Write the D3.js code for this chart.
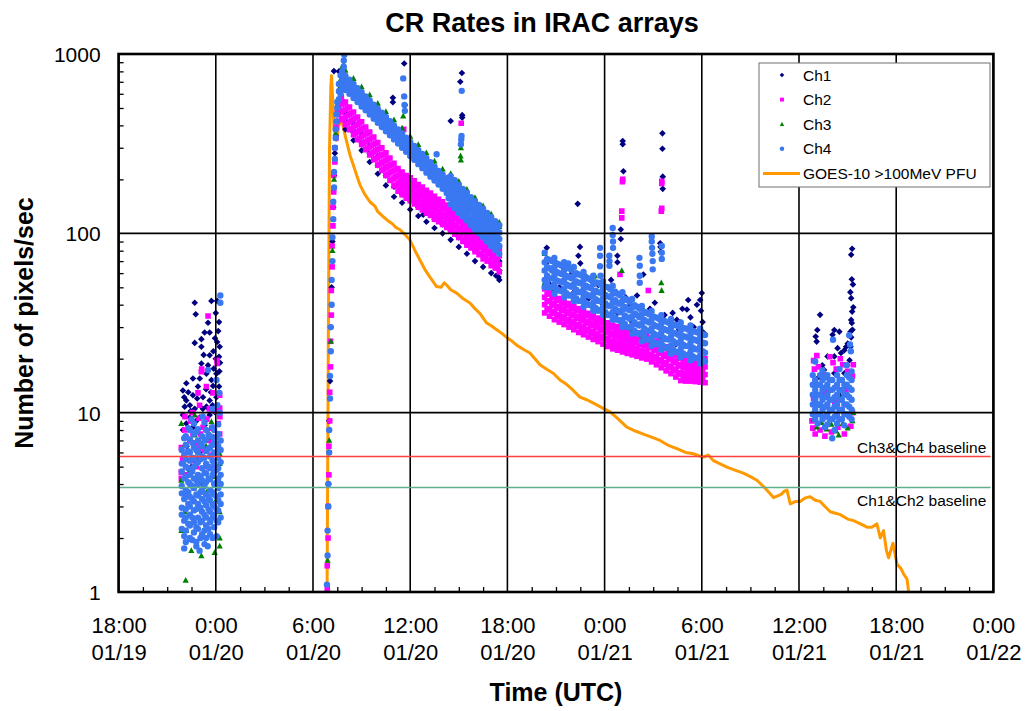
<!DOCTYPE html>
<html lang="en">
<head>
    <meta charset="UTF-8">
    <title>CR Rates in IRAC arrays</title>
    <script src="https://cdn.jsdelivr.net/npm/d3@7"></script>
    <style>
        body { margin: 0; background: #fff; }
        text { font-family: "Liberation Sans", Arial, sans-serif; fill: #000; }
    </style>
</head>
<body>
    <div id="chart"></div>
    <script>
        // time is in hours after 0:00 UTC on 01/20
        const xTickHours = [-6, 0, 6, 12, 18, 24, 30, 36, 42, 48];
        const xTickTime = ["18:00", "0:00", "6:00", "12:00", "18:00", "0:00", "6:00", "12:00", "18:00", "0:00"];
        const xTickDate = ["01/19", "01/20", "01/20", "01/20", "01/20", "01/21", "01/21", "01/21", "01/21", "01/22"];
        const yTicks = [1, 10, 100, 1000];

        const seriesNames = ["Ch1", "Ch2", "Ch3", "Ch4"];
        const goesName = "GOES-10 >100MeV PFU";
        const baselineCh34 = 5.7;
        const baselineCh12 = 3.82;

        // rows are [hour, value, value, ...]
        const ch1Rows = [
            // night of 01/19
            [-1.30, 41], [-0.27, 42], [0.08, 42], [-1.24, 35.4], [0.0, 35.9], [-0.48, 31.7], [0.2, 32],
            [-0.69, 28], [-0.38, 28], [-1.3, 24.5], [-0.89, 25.7], [0.08, 24.8], [0.24, 23.3], [-0.89, 23.3],
            [-0.38, 20.9], [0.0, 20], [0.2, 20.5], [-0.89, 18.8], [-0.48, 18.4], [-0.13, 17.6], [0.04, 16.5],
            [-1.41, 15.5], [-0.99, 15.5], [-0.58, 16.5], [-0.27, 15.2], [-1.82, 14.6], [-2.03, 13.3], [-1.1, 14],
            [-0.17, 14.1], [-1.41, 12.5], [-1.82, 11.7], [-0.79, 12.2], [-0.38, 11.7], [0.04, 12.2], [-1.92, 10.8],
            [-1.3, 10.5], [-0.58, 10.8], [-0.07, 10.1], [-2.03, 9.7], [-1.61, 9.4], [-0.99, 9.4], [-0.38, 9.7],
            [-1.82, 8.7], [-1.41, 8.3], [-0.69, 8.5], [-2.03, 8.0], [-1.8, 6.5], [-1.0, 6], [-0.4, 7], [-1.5, 5],
            [-1.6, 11], [-1.15, 12], [-0.2, 11], [0.2, 14], [-0.6, 13.5], [0.22, 17], [-1.7, 13], [-0.05, 26],
            [0.15, 28.5], [-0.75, 21], [-1.95, 12.2], [-1.55, 10.2], [-1.2, 9.0], [-0.8, 10.5], [-0.3, 13.0],
            [0.1, 10.8], [-0.15, 22], [0.26, 19],
            // rise and decay 01/20
            [6.86, 1.0], [6.95, 4], [7.0, 9], [7.05, 15], [7.1, 30], [7.15, 50], [7.2, 90], [7.25, 140],
            [7.3, 210], [7.35, 280], [7.42, 350], [7.5, 420], [7.29, 803], [7.6, 800], [7.85, 545], [7.7, 520, 550],
            [8.0, 380, 420, 470], [8.5, 330, 365, 410], [9.0, 290, 320, 360], [9.5, 250, 280, 310],
            [10.0, 215, 240, 270], [10.5, 185, 210, 235], [11.0, 160, 182, 205], [11.5, 148, 165, 185],
            [12.0, 136, 152, 170], [12.5, 125, 140, 157], [13.0, 116, 130, 145], [13.5, 107, 120, 135],
            [14.0, 100, 112, 125], [14.5, 92, 103, 116], [15.0, 84, 95, 106], [15.5, 77, 87, 97],
            [16.0, 70, 80, 89], [16.5, 65, 74, 82], [17.0, 60, 68, 76], [17.5, 55, 62, 70], [17.45, 57],
            [12.8, 127], [14.5, 104], [15.4, 92], [17.3, 58],
            [11.63, 885], [11.67, 520], [10.93, 570], [10.93, 539], [15.19, 783], [15.09, 700],
            [15.21, 456], [15.21, 442], [14.5, 423],
            // 01/20 evening to 01/21 morning
            [20.43, 83], [20.5, 70], [20.7, 62], [21.0, 60], [21.4, 66], [21.6, 57], [22.0, 60], [22.34, 146],
            [22.38, 75], [22.48, 84], [22.5, 68], [22.8, 58], [23.2, 54], [23.61, 51.5], [24.0, 46], [24.4, 55],
            [24.79, 75], [24.79, 69], [25.0, 105], [25.0, 93], [25.12, 327], [25.12, 314], [25.16, 222],
            [25.3, 44], [25.6, 40], [26.0, 45], [26.39, 59], [26.8, 38], [27.1, 41], [27.43, 88], [27.45, 84],
            [27.47, 79], [27.57, 361], [27.57, 296], [27.59, 207], [27.59, 177], [27.7, 35], [28.04, 31.6],
            [28.2, 36], [28.46, 33], [28.6, 29], [28.8, 38], [29.08, 37.6], [29.16, 42.5], [29.3, 34], [29.5, 30],
            [29.7, 40], [29.9, 42.5], [29.95, 37], [30.0, 46.5], [30.05, 32], [30.1, 28],
            [20.6, 52], [21.2, 50], [22.1, 47], [23.0, 43], [23.9, 40], [24.8, 36], [25.7, 32], [26.6, 28],
            [27.5, 26], [28.4, 24], [29.3, 23],
            // 01/21 afternoon
            [39.28, 82], [39.22, 76], [39.26, 55.5], [39.33, 51.9], [39.22, 43.5], [39.35, 38.7], [39.28, 36.6],
            [39.22, 32.9], [39.26, 31.6], [37.3, 35.1], [37.13, 28.9], [37.03, 26.6], [37.09, 24.9], [38.18, 28.9],
            [38.49, 28.3], [38.07, 27.2], [39.18, 28.3], [39.22, 26.3], [39.01, 24.3], [39.18, 23.3], [38.91, 23.3],
            [38.38, 22.9], [38.8, 22.3], [38.59, 21.5], [38.18, 20.6], [39.12, 19.6], [38.97, 18.4], [37.76, 20.6],
            [37.44, 18.4], [37.55, 17.3], [38.18, 16.6], [38.8, 16.6], [37.23, 15.8], [38.59, 15.2], [39.17, 47],
            [39.3, 29], [37.0, 12], [37.8, 13], [38.5, 12.5], [39.0, 14]
        ];

        const ch2Rows = [
            [-0.48, 34.6], [-0.87, 17.5], [-0.89, 16.9], [0.08, 19.6], [0.08, 18.8], [-0.58, 14], [-0.17, 12.9],
            [0.24, 12.5], [0.24, 10.6], [-1.1, 12.9], [-1.04, 9.3], [-0.79, 8.3], [-1.92, 8.0], [-1.41, 7.6],
            [0.14, 8.7], [0.24, 7.6], [0.04, 6.7], [-0.38, 7.0], [-1.61, 7.0], [-2.13, 6.4], [-0.99, 6.4],
            [-2.13, 4.66], [-1.82, 4.5], [-0.58, 5.0], [-0.07, 5.1], [-1.41, 5.4], [-2.13, 4.3],
            [-2.05, 5.5], [-1.75, 6.0], [-1.55, 9.0], [-1.25, 6.8], [-1.2, 5.0], [-0.95, 7.6], [-0.7, 6.2],
            [-0.55, 9.2], [-0.3, 5.8], [-0.25, 8.2], [-0.05, 7.3], [0.1, 5.6], [0.25, 9.5], [0.2, 6.2],
            [-1.9, 9.5], [-1.0, 11.0], [-0.4, 10.5], [0.05, 10.2], [-1.45, 10.0],
            [6.88, 1.05, 1.4], [6.93, 2, 3], [6.98, 4.5, 6.5], [7.03, 9, 13], [7.08, 18, 25], [7.13, 35, 48],
            [7.18, 65, 85], [7.23, 110, 140], [7.28, 170, 210], [7.35, 250, 300], [7.42, 340, 390],
            [7.5, 420, 470], [7.58, 460, 520], [7.66, 480, 540],
            [7.75, 430, 475, 525, 575], [8.0, 403, 446, 492, 539], [8.25, 378, 418, 462, 506],
            [8.5, 355, 392, 434, 475], [8.75, 333, 368, 406, 445], [9.0, 313, 346, 382, 419],
            [9.25, 293, 324, 358, 392], [9.5, 274, 303, 335, 367], [9.75, 257, 284, 314, 344],
            [10.0, 240, 265, 293, 321], [10.25, 224, 248, 274, 300], [10.5, 210, 232, 256, 281],
            [10.75, 197, 218, 240, 263], [11.0, 184, 203, 225, 246], [11.25, 172, 190, 210, 230],
            [11.5, 164, 181, 201, 220], [11.75, 157, 174, 192, 210], [12.0, 152, 168, 186, 204],
            [12.25, 146, 162, 179, 196], [12.5, 140, 155, 171, 187], [12.75, 135, 149, 165, 181],
            [13.0, 130, 143, 159, 174], [13.25, 126, 139, 153, 168], [13.5, 120, 133, 147, 161],
            [13.75, 116, 128, 142, 155], [14.0, 112, 124, 137, 150], [14.25, 108, 119, 131, 144],
            [14.5, 103, 114, 126, 138], [14.75, 99, 109, 121, 132], [15.0, 95, 105, 116, 127],
            [15.25, 90, 100, 110, 121], [15.5, 86, 95, 105, 115], [15.75, 83, 91, 101, 110],
            [16.0, 79, 87, 97, 106], [16.25, 76, 84, 92, 101], [16.5, 72, 80, 88, 97],
            [16.75, 70, 77, 85, 93], [17.0, 66, 73, 81, 89], [17.25, 64, 70, 78, 85], [17.5, 61, 67, 75, 82],
            [7.875, 436, 484, 532], [8.125, 409, 454, 500], [8.375, 383, 426, 469], [8.625, 360, 400, 440],
            [8.875, 338, 375, 413], [9.125, 317, 352, 387], [9.375, 297, 330, 363], [9.625, 278, 309, 340],
            [9.875, 260, 289, 318], [10.125, 243, 270, 297], [10.375, 227, 252, 277], [10.625, 213, 236, 260],
            [10.875, 199, 221, 243], [11.125, 186, 207, 228], [11.375, 176, 195, 215], [11.625, 168, 187, 206],
            [11.875, 162, 180, 198], [12.125, 156, 173, 190], [12.375, 150, 166, 183], [12.625, 144, 160, 176],
            [12.875, 139, 154, 169], [13.125, 134, 148, 163], [13.375, 129, 143, 157], [13.625, 124, 137, 151],
            [13.875, 119, 132, 145], [14.125, 115, 127, 140], [14.375, 110, 122, 134], [14.625, 106, 117, 129],
            [14.875, 101, 112, 123], [15.125, 97, 107, 118], [15.375, 92, 102, 113], [15.625, 88, 98, 108],
            [15.875, 85, 94, 103], [16.125, 81, 90, 99], [16.375, 77, 86, 95], [16.625, 74, 82, 91],
            [16.875, 71, 79, 87], [17.125, 68, 75, 83], [17.375, 65, 72, 80],
            [11.6, 380], [15.15, 411],
            [20.3, 36, 40, 44, 49], [20.6, 34.5, 38, 42, 47], [20.9, 33, 36.7, 40.7, 45], [21.2, 32, 35.3, 39, 43.3],
            [21.5, 31, 34.2, 37.9, 42], [21.8, 30, 33.1, 36.7, 40.6], [22.1, 29, 32.1, 35.5, 39.3],
            [22.4, 28, 31, 34.3, 38], [22.7, 27.2, 30.1, 33.4, 36.9], [23.0, 26.4, 29.2, 32.3, 35.8],
            [23.3, 25.6, 28.4, 31.4, 34.8], [23.6, 24.9, 27.5, 30.5, 33.7], [23.9, 24.1, 26.7, 29.6, 32.7],
            [24.2, 23.4, 25.9, 28.6, 31.7], [24.5, 22.7, 25.1, 27.8, 30.8], [24.8, 22.3, 24.6, 27.3, 30.2],
            [25.1, 21.8, 24.2, 26.8, 29.6], [25.4, 21.4, 23.7, 26.3, 29.1], [25.7, 21, 23.3, 25.8, 28.5],
            [26.0, 20.6, 22.8, 25.2, 27.9], [26.3, 20.2, 22.3, 24.7, 27.4], [26.6, 19.9, 22, 24.4, 27],
            [26.9, 19.2, 21.2, 23.5, 26], [27.2, 18.5, 20.5, 22.7, 25.1], [27.5, 17.8, 19.7, 21.8, 24.2],
            [27.8, 17.1, 19, 21, 23.3], [28.1, 16.5, 18.2, 20.2, 22.3], [28.4, 15.8, 17.5, 19.4, 21.4],
            [28.7, 15.1, 16.7, 18.5, 20.5], [29.0, 15, 16.6, 18.4, 20.4], [29.3, 15, 16.6, 18.3, 20.3],
            [29.6, 14.9, 16.5, 18.2, 20.2], [29.9, 14.8, 16.4, 18.1, 20.1], [30.2, 14.7, 16.3, 18, 20],
            [20.45, 37.4, 41.6, 45.8], [20.75, 35.8, 39.8, 43.8], [21.05, 34.4, 38.3, 42.2], [21.35, 33.3, 37, 40.8],
            [21.65, 32.2, 35.8, 39.5], [21.95, 31.2, 34.7, 38.2], [22.25, 30.2, 33.6, 37], [22.55, 29.2, 32.5, 35.8],
            [22.85, 28.4, 31.6, 34.8], [23.15, 27.5, 30.6, 33.7], [23.45, 26.7, 29.7, 32.7], [23.75, 25.9, 28.8, 31.7],
            [24.05, 25.1, 27.9, 30.7], [24.35, 24.4, 27.1, 29.9], [24.65, 23.8, 26.4, 29.1], [24.95, 23.3, 25.9, 28.6],
            [25.25, 22.9, 25.4, 28], [25.55, 22.4, 24.9, 27.5], [25.85, 22, 24.5, 26.9], [26.15, 21.5, 24, 26.4],
            [26.45, 21.2, 23.6, 25.9], [26.75, 20.6, 23, 25.3], [27.05, 19.9, 22.2, 24.4], [27.35, 19.2, 21.4, 23.5],
            [27.65, 18.5, 20.6, 22.7], [27.95, 17.8, 19.8, 21.8], [28.25, 17.1, 19, 20.9], [28.55, 16.4, 18.2, 20.1],
            [28.85, 16, 17.8, 19.6], [29.15, 15.9, 17.7, 19.5], [29.45, 15.8, 17.6, 19.3], [29.75, 15.7, 17.5, 19.2],
            [30.05, 15.6, 17.4, 19.1],
            [25.12, 200], [25.1, 194], [25.06, 133], [25.06, 122], [27.53, 195], [27.53, 190], [27.53, 138],
            [27.5, 133], [24.95, 59], [26.7, 48],
            [36.9, 19.5], [36.95, 17.5], [37.2, 18], [37.5, 16.5], [37.9, 20.5], [38.1, 19], [38.3, 17.5],
            [38.7, 18.5], [39.0, 17], [39.3, 16], [36.85, 8.2], [37.0, 7.6], [37.3, 8.0], [37.6, 7.4],
            [38.0, 7.8], [38.4, 8.3], [38.8, 7.6], [39.2, 8.4], [36.9, 12], [37.6, 13], [38.2, 11.5],
            [38.9, 13.5], [39.3, 10], [37.1, 20.8], [38.55, 20], [39.35, 18.5], [36.8, 9]
        ];

        const ch3Rows = [
            [-1.3, 9.7], [-0.27, 8.9], [-2.13, 8.7], [-0.38, 7.6], [-1.3, 7.5], [-0.17, 7.3], [-1.92, 6.6],
            [0.24, 5.9], [0.24, 5.2], [0.24, 4.1], [-2.13, 4.2], [-0.89, 4.0], [-1.82, 3.5], [-0.58, 3.6],
            [0.24, 3.2], [0.24, 2.8], [-1.92, 2.8], [-1.41, 2.5], [-1.82, 2.2], [-0.79, 2.1], [-2.13, 2.2],
            [0.24, 2.0], [-1.61, 1.96], [-0.07, 1.66], [-1.51, 1.7], [-0.89, 1.59], [0.24, 1.8], [-1.86, 1.16],
            [-1.0, 3.0], [-0.5, 2.6], [-1.6, 4.8], [-0.1, 4.4], [-1.15, 5.6], [-0.6, 6.5], [0.05, 3.3],
            [-1.95, 5.2], [-1.35, 3.8],
            [6.9, 1.5], [7.0, 7], [7.1, 25], [7.2, 80], [7.3, 200], [7.4, 360], [7.5, 520], [7.6, 640],
            [7.7, 720], [7.8, 800, 850], [7.9, 870],
            [8.0, 762, 810], [8.5, 686, 730], [9.0, 617, 656], [9.5, 556, 591], [10.0, 500, 531],
            [10.5, 449, 477], [11.0, 404, 429], [11.5, 363, 386], [12.0, 327, 347], [12.5, 294, 312],
            [13.0, 264, 281], [13.5, 238, 253], [14.0, 215, 228], [14.5, 193, 205, 215], [15.0, 173, 184, 195],
            [15.5, 156, 166, 176], [16.0, 140, 149, 158], [16.5, 127, 135, 142], [17.0, 113, 121, 128],
            [17.5, 102, 109, 115],
            [11.57, 451], [11.6, 349], [15.13, 300], [15.11, 270], [15.13, 256],
            [20.3, 53, 62, 77], [20.9, 49, 58, 72], [21.5, 47, 55, 69], [22.1, 44, 52, 65], [22.7, 42, 49, 61],
            [23.3, 39, 46, 57], [23.9, 37, 43.5, 54], [24.5, 35, 41, 51], [25.1, 32, 37.5, 47], [25.7, 29, 34.5, 43],
            [26.3, 27, 31.5, 39], [26.9, 25, 29.5, 37], [27.5, 24, 28, 35], [28.1, 22.6, 26.6, 33],
            [28.7, 21.7, 25.5, 32], [29.3, 20.8, 24.5, 30.6], [29.9, 20, 23.5, 29.4],
            [27.5, 53], [27.52, 48], [25.06, 62], [23.4, 58],
            [36.9, 9.2], [37.1, 8.3], [37.4, 8.8], [37.7, 8.1], [38.0, 8.6], [38.3, 7.9], [38.45, 7.5],
            [38.7, 8.7], [39.0, 8.2], [39.3, 9.0], [39.35, 10], [37.2, 11], [38.6, 12]
        ];

        const ch4Rows = [
            [-2.1, 2.25, 2.7, 2.95, 3.55, 3.9, 4.7, 5.2, 6.2],
            [-1.95, 1.75, 2.05, 2.5, 3.3, 4.3, 5.8, 7.2],
            [-1.85, 1.9, 2.2, 2.6, 2.9, 3.4, 3.7, 4.4, 5.0, 5.5, 6.6, 7.4],
            [-1.7, 2.4, 3.1, 3.6, 4.1, 4.9, 6.1, 8.2],
            [-1.6, 2.0, 2.35, 2.7, 3.0, 3.4, 4.0, 4.5, 5.4, 6.0, 7.1, 8.0],
            [-1.45, 1.95, 2.6, 3.3, 3.9, 4.7, 5.6, 6.8],
            [-1.35, 2.15, 2.45, 2.85, 3.2, 3.8, 4.3, 5.0, 5.6, 6.4, 7.6, 8.7],
            [-1.2, 1.9, 2.3, 2.9, 3.5, 4.2, 5.2, 6.2, 7.8],
            [-1.1, 2.25, 2.6, 3.1, 3.45, 4.0, 4.5, 5.3, 6.0, 7.0, 8.1],
            [-0.95, 2.0, 2.45, 2.95, 3.6, 4.4, 5.5, 6.7],
            [-0.85, 2.1, 2.5, 2.8, 3.3, 3.7, 4.2, 4.9, 5.7, 6.5, 7.4],
            [-0.7, 1.85, 2.2, 2.7, 3.2, 3.9, 4.6, 5.6, 7.0, 8.8],
            [-0.6, 2.0, 2.35, 2.6, 3.05, 3.5, 4.1, 4.6, 5.2, 6.1, 7.1, 8.0],
            [-0.45, 2.25, 2.9, 3.4, 4.3, 5.0, 6.3, 7.5],
            [-0.35, 2.1, 2.45, 2.8, 3.25, 3.7, 4.25, 4.9, 5.7, 6.4, 7.4],
            [-0.2, 2.0, 2.6, 3.1, 3.6, 4.5, 5.4, 6.6, 8.3],
            [-0.1, 2.3, 2.7, 3.0, 3.5, 4.0, 4.7, 5.2, 6.0, 7.0, 8.0],
            [0.05, 2.05, 2.5, 2.9, 3.4, 4.1, 4.8, 5.9, 7.3],
            [0.15, 2.45, 2.85, 3.25, 3.8, 4.3, 4.9, 5.6, 6.5, 7.6, 8.6],
            [0.3, 2.6, 3.1, 3.5, 4.0, 4.5, 5.3, 6.2, 7.0],
            [-1.2, 1.8], [-0.5, 1.8], [-0.2, 10.5], [0.1, 11], [0.22, 12.9],
            [-0.48, 17.3], [0.04, 15.2], [0.28, 45], [0.28, 41], [-0.8, 9.5], [-1.5, 9.2], [0.25, 10], [-1.0, 1.7],
            [6.86, 1.1], [6.9, 1.6, 2.2], [6.95, 3, 4], [7.0, 6, 8], [7.05, 12, 16], [7.1, 22, 30],
            [7.15, 40, 55], [7.2, 70, 95], [7.25, 120, 150], [7.3, 180, 220], [7.35, 260, 300],
            [7.4, 340, 380], [7.45, 420, 460], [7.5, 500, 540], [7.6, 560, 620, 680], [7.7, 600, 680, 760],
            [7.8, 640, 720, 800], [7.9, 660, 750, 850, 920], [7.93, 990],
            [8.0, 630, 693, 755], [8.25, 600, 658, 718], [8.5, 568, 624, 680], [8.75, 540, 592, 645],
            [9.0, 510, 561, 612], [9.25, 485, 532, 580], [9.5, 460, 505, 550], [9.75, 436, 479, 522],
            [10.0, 413, 454, 495], [10.25, 392, 431, 470], [10.5, 371, 408, 445], [10.75, 352, 387, 422],
            [11.0, 334, 367, 400], [11.25, 317, 348, 379], [11.5, 300, 330, 360], [11.75, 285, 313, 341],
            [12.0, 270, 297, 324], [12.25, 257, 282, 307], [12.5, 243, 267, 291], [12.75, 231, 254, 277],
            [13.0, 218, 240, 262], [13.25, 207, 228, 249], [13.5, 197, 216, 235], [13.75, 187, 205, 223],
            [14.0, 177, 195, 213], [14.25, 168, 185, 202], [14.5, 145, 159, 175, 191, 208],
            [14.75, 138, 151, 166, 181, 198], [15.0, 130, 143, 157, 171, 187], [15.25, 124, 136, 149, 162, 177],
            [15.5, 118, 129, 142, 155, 169], [15.75, 111, 122, 134, 146, 159], [16.0, 105, 116, 127, 138, 151],
            [16.25, 100, 110, 121, 132, 144], [16.5, 95, 105, 115, 125, 137], [16.75, 90, 99, 109, 119, 130],
            [17.0, 85, 94, 103, 112, 123], [17.25, 81, 89, 98, 107, 117], [17.5, 77, 85, 93, 101, 111],
            [8.125, 645, 705], [8.375, 612, 670], [8.625, 581, 635], [8.875, 550, 602], [9.125, 521, 571],
            [9.375, 495, 541], [9.625, 470, 514], [9.875, 445, 487], [10.125, 422, 462], [10.375, 400, 438],
            [10.625, 379, 415], [10.875, 360, 394], [11.125, 341, 373], [11.375, 324, 354], [11.625, 307, 335],
            [11.875, 291, 319], [12.125, 276, 302], [12.375, 262, 286], [12.625, 248, 272], [12.875, 236, 258],
            [13.125, 223, 245], [13.375, 212, 232], [13.625, 201, 219], [13.875, 191, 209], [14.125, 181, 199],
            [14.375, 157, 172, 188, 205], [14.625, 148, 162, 178, 194], [14.875, 140, 154, 168, 184],
            [15.125, 133, 146, 160, 174], [15.375, 126, 138, 152, 165], [15.625, 120, 132, 144, 157],
            [15.875, 113, 124, 136, 148], [16.125, 108, 118, 130, 141], [16.375, 103, 113, 123, 135],
            [16.625, 97, 107, 117, 128], [16.875, 92, 101, 111, 121], [17.125, 87, 96, 105, 114],
            [17.375, 83, 91, 99, 108],
            [11.57, 731], [11.63, 580], [11.65, 520], [11.67, 482], [11.67, 309], [15.18, 623], [15.17, 349],
            [15.15, 334], [15.13, 314], [13.63, 276],
            [20.3, 50, 55, 62, 69, 78], [20.6, 50, 56, 64, 71], [20.9, 46, 52, 58, 65, 73], [21.2, 48, 54, 60, 67],
            [21.5, 44, 49, 55, 62, 69], [21.8, 45, 51, 57, 64], [22.1, 42, 46, 52, 58, 65], [22.4, 42, 47, 53, 59],
            [22.7, 39, 44, 49, 55, 61], [23.0, 40, 45, 50, 56], [23.3, 37, 41, 46, 52, 58], [23.6, 37, 42, 47, 53],
            [23.9, 35, 39, 43.5, 49, 54], [24.2, 35, 39.5, 44.5, 50], [24.5, 33, 36.5, 41, 46, 51],
            [24.8, 33, 37, 41, 46], [25.1, 30, 33, 37.5, 42, 47], [25.4, 30, 34, 38, 42.5],
            [25.7, 27.6, 30.7, 34.5, 38.6, 43], [26.0, 27.7, 31, 35, 39], [26.3, 25, 28, 31.5, 35.3, 39.4],
            [26.6, 25.6, 28.7, 32.3, 36], [26.9, 23.6, 26.3, 29.5, 33, 36.9], [27.2, 24.1, 27, 30.4, 33.9],
            [27.5, 22.4, 24.9, 28, 31.4, 35], [27.8, 22.9, 25.7, 28.9, 32.2], [28.1, 21.3, 23.7, 26.6, 29.8, 33.3],
            [28.4, 21.8, 24.4, 27.6, 30.7], [28.7, 20.4, 22.7, 25.5, 28.6, 31.9], [29.0, 21, 23.5, 26.5, 29.5],
            [29.3, 19.6, 21.8, 24.5, 27.4, 30.6], [29.6, 20.2, 22.6, 25.4, 28.3], [29.9, 18.8, 20.9, 23.5, 26.3, 29.4],
            [30.2, 19.3, 21.6, 24.4, 27.1],
            [20.45, 52, 58, 65, 72], [20.75, 50, 56, 62.5, 70], [21.05, 49, 54.6, 61, 68], [21.35, 47.6, 53.2, 59.4, 66],
            [21.65, 46.3, 51.8, 57.8, 64.3], [21.95, 45, 50.4, 56.2, 62.5], [22.25, 43.4, 48.5, 54, 60],
            [22.55, 42, 47, 52.5, 58.4], [22.85, 41, 45.8, 51.1, 56.9], [23.15, 39.7, 44.4, 49.5, 55.1],
            [23.45, 38.4, 42.9, 47.9, 53.3], [23.75, 37.4, 41.8, 46.6, 51.9], [24.05, 36.3, 40.6, 45.3, 50.4],
            [24.35, 35.3, 39.4, 44, 49], [24.65, 34, 38, 42.4, 47.2], [24.95, 32.5, 36.3, 40.5, 45.1],
            [25.25, 31.2, 34.9, 38.9, 43.3], [25.55, 29.9, 33.4, 37.3, 41.5], [25.85, 28.6, 32, 35.7, 39.8],
            [26.15, 27.4, 30.6, 34.1, 38], [26.45, 26.4, 29.5, 32.9, 36.6], [26.75, 25.5, 28.5, 31.8, 35.4],
            [27.05, 24.7, 27.6, 30.8, 34.3], [27.35, 24.1, 26.9, 30, 33.4], [27.65, 23.5, 26.2, 29.3, 32.6],
            [27.95, 22.9, 25.6, 28.5, 31.7], [28.25, 22.4, 25, 27.9, 31], [28.55, 21.8, 24.4, 27.2, 30.3],
            [28.85, 21.4, 23.9, 26.7, 29.7], [29.15, 21, 23.5, 26.2, 29.1], [29.45, 20.6, 23, 25.7, 28.6],
            [29.75, 20.1, 22.5, 25.1, 28], [30.05, 19.7, 22, 24.6, 27.4],
            [23.72, 83], [23.72, 75], [23.72, 65.5], [23.75, 58], [24.5, 107], [24.5, 98], [24.52, 90], [24.52, 83],
            [24.29, 75], [24.3, 70], [24.3, 66], [26.15, 73], [26.17, 66], [26.17, 58], [26.17, 53], [26.91, 96],
            [26.91, 90], [26.93, 83], [26.95, 77], [26.97, 70], [26.97, 63], [27.53, 85], [27.53, 78], [27.53, 72],
            [21.76, 68], [21.7, 64],
            [36.85, 9.8, 11.1, 12.6, 14.3, 16.2], [37.15, 8.7, 9.8, 11.1, 12.6, 14.3],
            [37.45, 9.2, 10.4, 11.8, 13.4, 15.2, 17.2], [37.75, 8.6, 9.8, 11.1, 12.6, 14.3, 16.2],
            [38.05, 7.2, 9.2, 10.4, 11.8, 13.4, 15.2], [38.35, 8.7, 9.8, 11.1, 12.6, 14.3, 16.2],
            [38.65, 9.2, 10.4, 11.8, 13.4, 15.2], [38.95, 9.8, 11.1, 12.6, 14.3, 16.2, 18.4],
            [39.25, 9.2, 10.4, 11.8, 13.4, 15.2, 17],
            [37.0, 9.2, 10.4, 11.8, 13.4, 15.2], [37.3, 9.8, 11.1, 12.6, 14.3, 16.2],
            [37.6, 8.3, 9.5, 10.8, 12.2, 13.8, 15.7], [37.9, 9.2, 10.4, 11.8, 13.4, 15.2],
            [38.2, 8.0, 9.5, 10.8, 12.2, 13.8], [38.5, 9.2, 10.4, 11.8, 13.4, 15.2, 17.5],
            [38.8, 8.5, 9.8, 11.1, 12.6, 14.3], [39.1, 9.5, 10.8, 12.2, 13.8, 15.7],
            [37.0, 19.3], [38.1, 25.5], [39.1, 27], [39.2, 22], [39.15, 24]
        ];

        const goesData = [
            [6.87, 1.0], [6.95, 30], [7.02, 300], [7.1, 650], [7.14, 757], [7.2, 600], [7.3, 380], [7.45, 330],
            [7.6, 400], [7.76, 433], [7.9, 380], [8.07, 327], [8.3, 270], [8.48, 242], [8.7, 210], [8.89, 187],
            [9.2, 165], [9.51, 150], [9.82, 142], [10.0, 132], [10.33, 124], [10.6, 118], [10.9, 113], [11.1, 108],
            [11.36, 105], [11.6, 100], [11.98, 92], [12.3, 80], [12.6, 71], [12.9, 63], [13.22, 57], [13.63, 50.5],
            [13.9, 50], [14.1, 53], [14.25, 51.5], [14.5, 48.5], [14.87, 46.4], [15.3, 43], [15.69, 40.9],
            [16.0, 38], [16.3, 35.8], [16.72, 31.6], [17.0, 30.5], [17.34, 29], [17.7, 27.5], [17.95, 26.3],
            [18.3, 25], [18.57, 23.8], [19.0, 22.5], [19.39, 21.5], [19.7, 20], [20.01, 18.5], [20.4, 17.5],
            [20.83, 16.6], [21.25, 15.2], [21.6, 14.5], [22.07, 13.3], [22.48, 12.2], [22.9, 11.8], [23.31, 11.3],
            [23.8, 10.7], [24.34, 10.1], [24.8, 9.3], [25.37, 8.3], [25.9, 7.9], [26.39, 7.6], [26.9, 7.3],
            [27.42, 7.0], [27.9, 6.6], [28.46, 6.3], [29.0, 6.0], [29.48, 5.9], [29.8, 5.75], [30.1, 5.66],
            [30.4, 5.8], [30.72, 5.4], [31.1, 5.2], [31.55, 4.97], [32.0, 4.8], [32.57, 4.6], [33.0, 4.4],
            [33.4, 4.2], [33.9, 3.8], [34.43, 3.36], [34.9, 3.5], [35.1, 3.65], [35.26, 3.7], [35.46, 3.1],
            [35.8, 3.2], [36.07, 3.2], [36.4, 3.35], [36.69, 3.4], [37.0, 3.25], [37.31, 3.2], [37.6, 3.0],
            [37.93, 2.8], [38.25, 2.75], [38.55, 2.7], [39.0, 2.55], [39.37, 2.5], [39.8, 2.4], [40.2, 2.3],
            [40.5, 2.3], [40.81, 2.4], [41.02, 2.0], [41.22, 2.2], [41.4, 1.7], [41.53, 1.55], [41.8, 1.87],
            [42.05, 1.43], [42.3, 1.35], [42.46, 1.26], [42.67, 1.18], [42.77, 1.0]
        ];

        const colors = { Ch1: "#000080", Ch2: "#ff00ff", Ch3: "#008000", Ch4: "#3a78f2" };
        const goesColor = "#ff9900";

        const w = 1028;
        const h = 711;
        const pLeft = 118.6, pRight = 993.4, pTop = 54, pBottom = 592;

        const toPoints = rows => rows.flatMap(([t, ...vs]) => vs.map(v => [t, v]));
        const seriesData = {
            Ch1: toPoints(ch1Rows),
            Ch2: toPoints(ch2Rows),
            Ch3: toPoints(ch3Rows),
            Ch4: toPoints(ch4Rows)
        };

        const xScale = d3.scaleLinear().domain([-6, 48]).range([pLeft, pRight]);
        const yScale = d3.scaleLog().domain([1, 1000]).range([pBottom, pTop]);

        const shapes = {
            Ch1: s => `M0,${-3.3 * s}L${3.3 * s},0L0,${3.3 * s}L${-3.3 * s},0Z`,
            Ch2: s => `M${-2.8 * s},${-2.8 * s}h${5.6 * s}v${5.6 * s}h${-5.6 * s}Z`,
            Ch3: s => `M0,${-3.4 * s}L${3.1 * s},${2.4 * s}L${-3.1 * s},${2.4 * s}Z`,
            Ch4: s => d3.symbol(d3.symbolCircle, 32 * s * s)()
        };

        const svg = d3.select('#chart')
            .append('svg')
            .attr('width', w)
            .attr('height', h);

        svg.append('rect').attr('width', w).attr('height', h).attr('fill', '#fff');

        const plot = svg.append('g');

        plot.append('defs').append('clipPath').attr('id', 'clip')
            .append('rect')
            .attr('x', pLeft).attr('y', pTop)
            .attr('width', pRight - pLeft).attr('height', pBottom - pTop);

        // GOES proton flux line, drawn under the points
        const line = d3.line()
            .x(d => xScale(d[0]))
            .y(d => yScale(d[1]));

        plot.append('path')
            .datum(goesData)
            .attr('clip-path', 'url(#clip)')
            .attr('fill', 'none')
            .attr('stroke', goesColor)
            .attr('stroke-width', 3)
            .attr('stroke-linejoin', 'round')
            .attr('d', line);

        seriesNames.forEach(name => {
            plot.append('g')
                .attr('clip-path', 'url(#clip)')
                .selectAll('path')
                .data(seriesData[name])
                .enter()
                .append('path')
                .attr('d', shapes[name](1))
                .attr('transform', d => 'translate(' + xScale(d[0]) + ',' + yScale(d[1]) + ')')
                .attr('fill', colors[name]);
        });

        // gridlines
        plot.selectAll('.vgrid')
            .data(xTickHours)
            .enter()
            .append('line')
            .attr('x1', d => xScale(d)).attr('x2', d => xScale(d))
            .attr('y1', pTop).attr('y2', pBottom)
            .attr('stroke', '#000').attr('stroke-width', 1.6);

        plot.selectAll('.hgrid')
            .data(yTicks)
            .enter()
            .append('line')
            .attr('x1', pLeft).attr('x2', pRight)
            .attr('y1', d => yScale(d)).attr('y2', d => yScale(d))
            .attr('stroke', '#000').attr('stroke-width', 1.6);

        // baselines
        const baselineEnd = 990.5;
        plot.append('line')
            .attr('x1', pLeft).attr('x2', baselineEnd)
            .attr('y1', yScale(baselineCh34)).attr('y2', yScale(baselineCh34))
            .attr('stroke', '#ff4040').attr('stroke-width', 1.5);
        plot.append('line')
            .attr('x1', pLeft).attr('x2', baselineEnd)
            .attr('y1', yScale(baselineCh12)).attr('y2', yScale(baselineCh12))
            .attr('stroke', '#5fae8c').attr('stroke-width', 1.5);
        plot.append('text')
            .attr('x', 857).attr('y', yScale(baselineCh34) - 3)
            .attr('font-size', 15.5)
            .text('Ch3&Ch4 baseline');
        plot.append('text')
            .attr('x', 857).attr('y', yScale(baselineCh12) + 18)
            .attr('font-size', 15.5)
            .text('Ch1&Ch2 baseline');

        // minor ticks, pointing into the plot
        const minorY = [];
        [1, 10, 100].forEach(dec => [2, 3, 4, 5, 6, 7, 8, 9].forEach(k => minorY.push(dec * k)));
        svg.append('g')
            .attr('transform', 'translate(' + pLeft + ',0)')
            .call(d3.axisRight(yScale).tickValues(minorY).tickSize(5).tickFormat(''))
            .call(g => g.select('.domain').remove())
            .selectAll('line').attr('stroke-width', 1.3);

        const minorX = d3.range(-6, 48, 1.5).filter(d => d % 6 !== 0);
        svg.append('g')
            .attr('transform', 'translate(0,' + pBottom + ')')
            .call(d3.axisTop(xScale).tickValues(minorX).tickSize(5).tickFormat(''))
            .call(g => g.select('.domain').remove())
            .selectAll('line').attr('stroke-width', 1.3);

        // plot frame
        svg.append('rect')
            .attr('x', pLeft).attr('y', pTop)
            .attr('width', pRight - pLeft).attr('height', pBottom - pTop)
            .attr('fill', 'none')
            .attr('stroke', '#000')
            .attr('stroke-width', 2.6);

        // y axis labels
        const yAxis = d3.axisLeft(yScale).tickValues(yTicks).tickFormat(d3.format('d')).tickSize(0).tickPadding(18);
        svg.append('g')
            .attr('transform', 'translate(' + pLeft + ',0)')
            .call(yAxis)
            .call(g => g.select('.domain').remove())
            .selectAll('text')
            .attr('font-size', 21)
            .attr('font-family', '"Liberation Sans", Arial, sans-serif')
            .attr('dy', '0.36em');

        // x axis labels, two lines each
        const xAxis = d3.axisBottom(xScale).tickValues(xTickHours).tickSize(0).tickFormat('');
        const xg = svg.append('g')
            .attr('transform', 'translate(0,' + pBottom + ')')
            .call(xAxis)
            .call(g => g.select('.domain').remove());
        xg.selectAll('.tick text').remove();
        xg.selectAll('.tick')
            .append('text')
            .attr('text-anchor', 'middle')
            .attr('font-size', 22)
            .attr('font-family', '"Liberation Sans", Arial, sans-serif')
            .attr('fill', '#000')
            .each(function(d, i) {
                const t = d3.select(this);
                t.append('tspan').attr('x', 0).attr('y', 41).text(xTickTime[i]);
                t.append('tspan').attr('x', 0).attr('y', 68).text(xTickDate[i]);
            });

        // titles
        svg.append('text')
            .attr('x', 542).attr('y', 32)
            .attr('text-anchor', 'middle')
            .attr('font-size', 27)
            .attr('font-weight', 'bold')
            .text('CR Rates in IRAC arrays');

        svg.append('text')
            .attr('x', (pLeft + pRight) / 2).attr('y', 701)
            .attr('text-anchor', 'middle')
            .attr('font-size', 25)
            .attr('font-weight', 'bold')
            .text('Time (UTC)');

        svg.append('text')
            .attr('transform', 'translate(33,' + (pTop + pBottom) / 2 + ') rotate(-90)')
            .attr('text-anchor', 'middle')
            .attr('font-size', 25)
            .attr('font-weight', 'bold')
            .text('Number of pixels/sec');

        // legend
        const legend = svg.append('g');
        legend.append('rect')
            .attr('x', 759).attr('y', 63)
            .attr('width', 231).attr('height', 124)
            .attr('fill', '#fff')
            .attr('stroke', '#6e6e6e')
            .attr('stroke-width', 1);

        const legendRows = seriesNames.concat([goesName]);
        legendRows.forEach((name, i) => {
            const ly = 75 + i * 24.6;
            if (name === goesName) {
                legend.append('line')
                    .attr('x1', 763).attr('x2', 800)
                    .attr('y1', ly).attr('y2', ly)
                    .attr('stroke', goesColor).attr('stroke-width', 3);
            } else {
                legend.append('path')
                    .attr('d', shapes[name](0.7))
                    .attr('transform', 'translate(782,' + ly + ')')
                    .attr('fill', colors[name]);
            }
            legend.append('text')
                .attr('x', 803).attr('y', ly + 5.5)
                .attr('font-size', 15.5)
                .text(name);
        });
    </script>
</body>
</html>
